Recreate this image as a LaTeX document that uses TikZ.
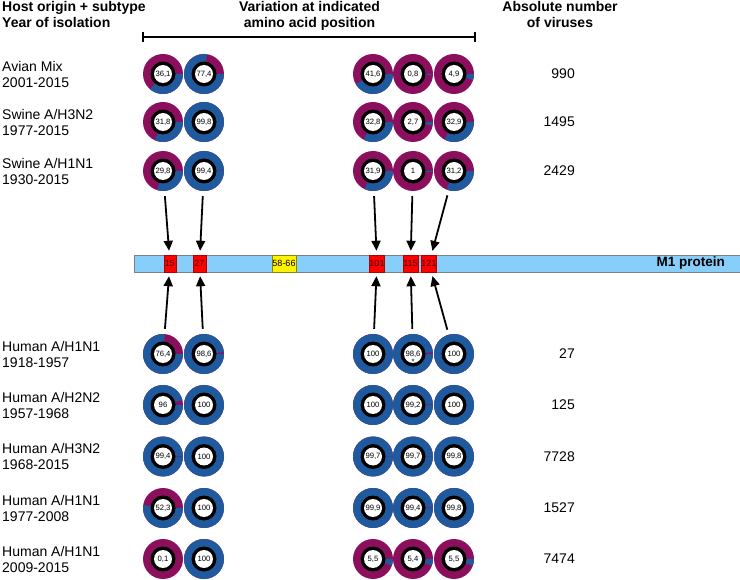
\documentclass[tikz,border=0pt]{standalone}
\usepackage{fontspec}
\setmainfont{Liberation Sans}
\usetikzlibrary{arrows.meta}
\definecolor{virpurple}{HTML}{8C0F5E}
\definecolor{virblue}{HTML}{1F5A9E}
\definecolor{barblue}{HTML}{87CEFA}
\tikzset{
  donutlbl/.style={circle, minimum size=40, inner sep=0pt, font=\fontsize{7.7}{8}\selectfont},
  rowlbl/.style={anchor=west, align=left, inner sep=0pt, font=\fontsize{14}{16}\selectfont},
  tally/.style={anchor=east, inner sep=0pt, font=\fontsize{14}{16}\selectfont},
  headtxt/.style={align=center, inner sep=0pt, font=\bfseries\fontsize{14}{16}\selectfont},
  site/.style={draw=red!70!black, fill=red, text=black!80!red, minimum height=17, inner sep=0pt, font=\fontsize{9}{9}\selectfont},
  pointer/.style={-{Triangle[length=10pt,width=9pt]}, line width=1.8pt, shorten <=5pt, shorten >=4pt},
}
% name, x, y, percentage, printed value
\newcommand{\donut}[5]{%
  \fill[virpurple] (#2,#3) circle[radius=20];
  \fill[virblue] (#2,#3) -- ++(0:20) arc[start angle=0, end angle={-3.6*#4}, radius=20] -- cycle;
  \fill[black] (#2,#3) circle[radius=12.5];
  \fill[white] (#2,#3) circle[radius=9];
  \node[donutlbl] (#1) at (#2,#3) {#5};
}

\begin{document}
\begin{tikzpicture}[x=1pt, y=1pt]
\useasboundingbox (0,0) rectangle (740,-580);
% Headers
\node[headtxt, anchor=north west, align=left] (hhost) at (2,-1) {Host origin + subtype\\Year of isolation};
\node[headtxt, anchor=north] (hvar) at (309.5,-1) {Variation at indicated\\amino acid position};
\node[headtxt, anchor=north] (hnum) at (560,-1) {Absolute number\\of viruses};
% Lines
\coordinate (brl) at (143,-37);
\coordinate (brr) at (475,-37);
\draw[line width=1.5pt] (brl) -- (brr);
\draw[line width=1.5pt] ([yshift=5]brl) -- ([yshift=-5]brl);
\draw[line width=1.5pt] ([yshift=5]brr) -- ([yshift=-5]brr);
% Row labels
\node[rowlbl] (lav) at (2,-74) {Avian Mix\\2001-2015};
\node[rowlbl] (lswb) at (2,-122) {Swine A/H3N2\\1977-2015};
\node[rowlbl] (lswa) at (2,-171) {Swine A/H1N1\\1930-2015};
\node[rowlbl] (lhua) at (2,-354) {Human A/H1N1\\1918-1957};
\node[rowlbl] (lhub) at (2,-405) {Human A/H2N2\\1957-1968};
\node[rowlbl] (lhuc) at (2,-456.5) {Human A/H3N2\\1968-2015};
\node[rowlbl] (lhud) at (2,-508) {Human A/H1N1\\1977-2008};
\node[rowlbl] (lhue) at (2,-559) {Human A/H1N1\\2009-2015};
% Counts
\node[tally] (nav) at (575,-74) {990};
\node[tally] (nswb) at (575,-122) {1495};
\node[tally] (nswa) at (575,-171) {2429};
\node[tally] (nhua) at (575,-354) {27};
\node[tally] (nhub) at (575,-405) {125};
\node[tally] (nhuc) at (575,-456.5) {7728};
\node[tally] (nhud) at (575,-508) {1527};
\node[tally] (nhue) at (575,-559) {7474};
% Donuts
\donut{av15}{163}{-74}{36.1}{36,1}
\donut{av27}{204}{-74}{77.4}{77,4}
\donut{av101}{373}{-74}{41.6}{41,6}
\donut{av115}{413}{-74}{0.8}{0,8}
\donut{av121}{454}{-74}{4.9}{4,9}
\donut{swb15}{163}{-122}{31.8}{31,8}
\donut{swb27}{204}{-122}{99.8}{99,8}
\donut{swb101}{373}{-122}{32.8}{32,8}
\donut{swb115}{413}{-122}{2.7}{2,7}
\donut{swb121}{454}{-122}{32.9}{32,9}
\donut{swa15}{163}{-171}{29.8}{29,8}
\donut{swa27}{204}{-171}{99.4}{99,4}
\donut{swa101}{373}{-171}{31.9}{31,9}
\donut{swa115}{413}{-171}{1}{1}
\donut{swa121}{454}{-171}{31.2}{31,2}
\donut{hua15}{163}{-354}{76.4}{76,4}
\donut{hua27}{204}{-354}{98.6}{98,6}
\donut{hua101}{373}{-354}{100}{100}
\donut{hua115}{413}{-354}{98.6}{98,6}
\donut{hua121}{454}{-354}{100}{100}
\donut{hub15}{163}{-405}{96}{96}
\donut{hub27}{204}{-405}{100}{100}
\donut{hub101}{373}{-405}{100}{100}
\donut{hub115}{413}{-405}{99.2}{99,2}
\donut{hub121}{454}{-405}{100}{100}
\donut{huc15}{163}{-456.5}{99.4}{99,4}
\donut{huc27}{204}{-456.5}{100}{100}
\donut{huc101}{373}{-456.5}{99.7}{99,7}
\donut{huc115}{413}{-456.5}{99.7}{99,7}
\donut{huc121}{454}{-456.5}{99.8}{99,8}
\donut{hud15}{163}{-508}{52.3}{52,3}
\donut{hud27}{204}{-508}{100}{100}
\donut{hud101}{373}{-508}{99.9}{99,9}
\donut{hud115}{413}{-508}{99.4}{99,4}
\donut{hud121}{454}{-508}{99.8}{99,8}
\donut{hue15}{163}{-559}{0.1}{0,1}
\donut{hue27}{204}{-559}{100}{100}
\donut{hue101}{373}{-559}{5.5}{5,5}
\donut{hue115}{413}{-559}{5.4}{5,4}
\donut{hue121}{454}{-559}{5.5}{5,5}
\node[donutlbl, minimum size=0pt] (star) at (413,-362) {*};
% M1 protein
\node[draw=gray, fill=barblue, minimum width=606, minimum height=17, inner sep=0pt] (m1) at (437,-263.5) {};
\node[anchor=east, inner sep=0pt, font=\bfseries\fontsize{13.5}{14}\selectfont] (m1lbl) at (725,-263.5) {M1 protein};
\node[site, minimum width=12] (p15) at (170,-263.5) {15};
\node[site, minimum width=13] (p27) at (199.5,-263.5) {27};
\node[site, draw=olive, fill=yellow, text=black, minimum width=24] (p58) at (284,-263.5) {58-66};
\node[site, minimum width=14] (p101) at (377,-263.5) {101};
\node[site, minimum width=15] (p115) at (410.5,-263.5) {115};
\node[site, minimum width=14] (p121) at (429,-263.5) {121};
% Arrows
\draw[pointer] (swa15) -- (p15);
\draw[pointer] (swa27) -- (p27);
\draw[pointer] (swa101) -- (p101);
\draw[pointer] (swa115) -- (p115);
\draw[pointer] (swa121) -- (p121);
\draw[pointer] (hua15) -- (p15);
\draw[pointer] (hua27) -- (p27);
\draw[pointer] (hua101) -- (p101);
\draw[pointer] (hua115) -- (p115);
\draw[pointer] (hua121) -- (p121);
\end{tikzpicture}
\end{document}
